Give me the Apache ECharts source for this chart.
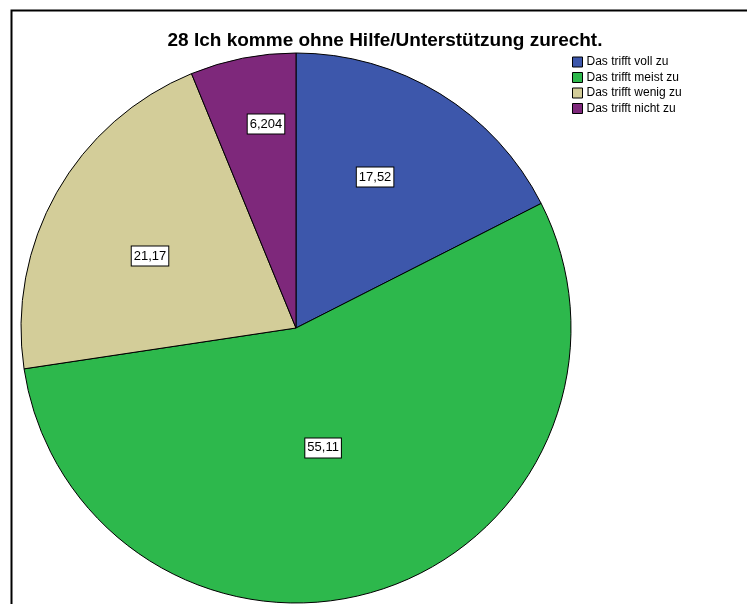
<!DOCTYPE html>
<html><head><meta charset="utf-8">
<script src="https://cdn.jsdelivr.net/npm/echarts@6/dist/echarts.min.js"></script>
<style>html,body{margin:0;padding:0;background:#fff}#c{width:747px;height:604px}</style>
</head><body><div id="c"></div>
<script>
var titleText = "28 Ich komme ohne Hilfe/Unterstützung zurecht.";
var categories = ["Das trifft voll zu", "Das trifft meist zu", "Das trifft wenig zu", "Das trifft nicht zu"];
var values = [17.52, 55.11, 21.17, 6.204];
var labels = ["17,52", "55,11", "21,17", "6,204"];
var colors = ["#3d57ab", "#2db84c", "#d3cd99", "#7e287b"];

var CX = 296, CY = 328, R = 275;
var labelRadius = [0.62, 0.447, 0.592, 0.75];
var labelAngleShift = [-3.9, 5.0, -3.3, 2.8];
var total = values.reduce(function(a,b){return a+b;},0);
var mids = [], acc = 0;
values.forEach(function(v){ mids.push((acc + v/2)/total*2*Math.PI); acc += v; });

var chart = echarts.init(document.getElementById('c'), null, {renderer:'canvas'});
chart.setOption({
  animation:false,
  backgroundColor:'#fff',
  title:{text:titleText, left:385, top:31, textAlign:'center', padding:0,
    textStyle:{fontFamily:'Liberation Sans, Arial', fontSize:19, fontWeight:'bold', color:'#000'}},
  legend:{orient:'vertical', left:567, top:51, itemWidth:10, itemHeight:10, itemGap:3.5,
    icon:'rect', itemStyle:{borderColor:'#000', borderWidth:1},
    textStyle:{fontFamily:'Liberation Sans, Arial', fontSize:12, color:'#000', padding:[0,0,0,-1]},
    data:categories},
  graphic:[{type:'rect', shape:{x:11.5,y:10.5,width:800,height:700}, style:{fill:null, stroke:'#000', lineWidth:2}, silent:true}],
  series:[{
    type:'pie', center:[CX,CY], radius:[0,R], startAngle:90, clockwise:true,
    avoidLabelOverlap:false,
    itemStyle:{borderColor:'#000', borderWidth:1},
    label:{show:true, position:'inside', formatter:function(p){return labels[p.dataIndex];},
      fontFamily:'Liberation Sans, Arial', fontSize:13, color:'#000',
      backgroundColor:'#fff', borderColor:'#000', borderWidth:1, padding:[4,2,2,2]},
    labelLine:{show:false},
    labelLayout:function(p){
      var i = p.dataIndex;
      var a = mids[i] + labelAngleShift[i]*Math.PI/180, r = labelRadius[i]*R;
      return {x: CX + r*Math.sin(a), y: CY - r*Math.cos(a), align:'center', verticalAlign:'middle'};
    },
    data:categories.map(function(c,i){return {name:c, value:values[i], itemStyle:{color:colors[i]}};})
  }]
});
</script></body></html>
